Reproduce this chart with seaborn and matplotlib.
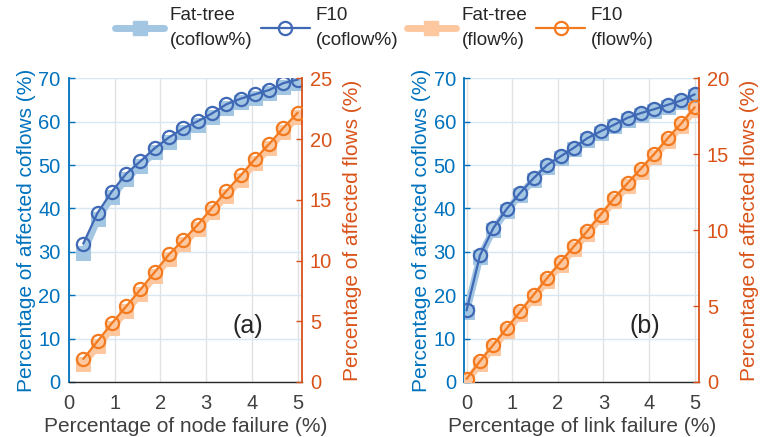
import matplotlib
matplotlib.use("Agg")
import matplotlib.pyplot as plt
import seaborn as sns
from matplotlib.lines import Line2D

# ---- data -------------------------------------------------------------
node_failure = [0.3125, 0.625, 0.9375, 1.25, 1.5625, 1.875, 2.1875, 2.5,
                2.8125, 3.125, 3.4375, 3.75, 4.0625, 4.375, 4.6875, 5.0]
node_fattree_coflow = [29.8, 37.5, 42.7, 46.8, 49.9, 52.9, 55.4, 57.6,
                       59.2, 61.0, 63.1, 64.5, 65.5, 66.5, 68.1, 69.0]
node_f10_coflow = [31.9, 39.0, 43.9, 48.0, 50.9, 53.9, 56.4, 58.5,
                   60.1, 61.9, 64.0, 65.3, 66.3, 67.3, 68.9, 69.7]
node_fattree_flow = [1.5, 2.95, 4.45, 5.85, 7.25, 8.7, 10.15, 11.35,
                     12.6, 14.0, 15.35, 16.65, 18.0, 19.25, 20.6, 21.85]
node_f10_flow = [1.9, 3.36, 4.84, 6.22, 7.62, 9.05, 10.51, 11.7,
                 12.93, 14.33, 15.71, 17.0, 18.33, 19.59, 20.93, 22.17]

link_failure = [0.0, 0.294, 0.588, 0.882, 1.176, 1.471, 1.765, 2.059, 2.353,
                2.647, 2.941, 3.235, 3.529, 3.824, 4.118, 4.412, 4.706, 5.0]
link_fattree_coflow = [16.2, 28.8, 35.1, 39.5, 43.2, 46.6, 49.6, 51.6, 53.6,
                       55.8, 57.4, 58.9, 60.5, 61.6, 62.5, 63.5, 64.5, 65.9]
link_f10_coflow = [16.5, 29.2, 35.5, 39.9, 43.6, 47.0, 50.0, 52.0, 54.0,
                   56.2, 57.8, 59.3, 60.9, 62.0, 62.9, 63.9, 64.9, 66.3]
link_fattree_flow = [0.05, 1.2, 2.25, 3.35, 4.45, 5.55, 6.65, 7.7, 8.75,
                     9.75, 10.85, 11.9, 12.9, 13.85, 14.85, 15.85, 16.85, 17.9]
link_f10_flow = [0.2, 1.37, 2.45, 3.54, 4.65, 5.75, 6.84, 7.9, 8.93,
                 9.94, 11.03, 12.1, 13.09, 14.06, 15.03, 16.06, 17.03, 18.09]

x_ticks = [0, 1, 2, 3, 4, 5]
coflow_ticks = [0, 10, 20, 30, 40, 50, 60, 70]

legend_labels = ["Fat-tree\n(coflow%)", "F10\n(coflow%)",
                 "Fat-tree\n(flow%)", "F10\n(flow%)"]

# ---- style ------------------------------------------------------------
sns.set_theme(style="white")
plt.rcParams["font.family"] = ["Liberation Sans", "DejaVu Sans"]

AX_BLUE = "#0072BD"
AX_ORANGE = "#D95319"
F10_COFLOW = "#3F68B5"
FT_COFLOW = "#A3C6E3"
F10_FLOW = "#F47A1F"
FT_FLOW = "#FDC8A0"
TEXT_GRAY = "#404040"

TICK_FS = 14.5
LABEL_FS = 15

ft_coflow_kw = dict(color=FT_COFLOW, lw=5, marker="s", ms=9.5,
                    mfc=FT_COFLOW, mec=FT_COFLOW)
f10_coflow_kw = dict(color=F10_COFLOW, lw=1.6, marker="o", ms=9.5,
                     mfc="none", mec=F10_COFLOW, mew=1.6)
ft_flow_kw = dict(color=FT_FLOW, lw=5, marker="s", ms=9.5,
                  mfc=FT_FLOW, mec=FT_FLOW)
f10_flow_kw = dict(color=F10_FLOW, lw=1.6, marker="o", ms=9.5,
                   mfc="none", mec=F10_FLOW, mew=1.6)

fig = plt.figure(figsize=(7.64, 4.37), dpi=100)


def panel(rect, x, ft_c, f10_c, ft_f, f10_f, xlabel, flow_max, tag, xlim):
    ax = fig.add_axes(rect)
    ax2 = ax.twinx()

    sns.lineplot(x=x, y=ft_c, ax=ax, zorder=2, **ft_coflow_kw)
    sns.lineplot(x=x, y=f10_c, ax=ax, zorder=3, **f10_coflow_kw)
    sns.lineplot(x=x, y=ft_f, ax=ax2, zorder=2, **ft_flow_kw)
    sns.lineplot(x=x, y=f10_f, ax=ax2, zorder=3, **f10_flow_kw)

    ax.set_xlim(*xlim)
    ax.set_ylim(0, 70)
    ax2.set_ylim(0, flow_max)
    ax.set_xticks(x_ticks)
    ax.set_yticks(coflow_ticks)
    ax2.set_yticks(list(range(0, flow_max + 1, 5)))

    ax.xaxis.grid(True, color="#e2e2e2", lw=1.0)
    ax.yaxis.grid(True, color="#d8e7f2", lw=1.0)
    ax.set_axisbelow(True)

    for s in ("top", "right"):
        ax.spines[s].set_visible(False)
    for s in ("top", "left", "bottom"):
        ax2.spines[s].set_visible(False)
    ax.spines["left"].set_color(AX_BLUE)
    ax.spines["left"].set_linewidth(1.3)
    ax.spines["bottom"].set_color("#262626")
    ax.spines["bottom"].set_linewidth(1.0)
    ax2.spines["right"].set_color(AX_ORANGE)
    ax2.spines["right"].set_linewidth(1.3)

    ax.tick_params(axis="y", direction="in", length=4, width=1,
                   colors=AX_BLUE, labelsize=TICK_FS, pad=6)
    ax2.tick_params(axis="y", direction="in", length=4, width=1,
                    colors=AX_ORANGE, labelsize=TICK_FS, pad=5.5)
    ax.tick_params(axis="x", direction="in", length=4, width=1,
                   color="#262626", labelcolor=TEXT_GRAY,
                   labelsize=TICK_FS, pad=9)

    ax.set_xlabel(xlabel, fontsize=LABEL_FS, color=TEXT_GRAY, labelpad=2.5)
    ax.set_ylabel("Percentage of affected coflows (%)", fontsize=LABEL_FS,
                  color=AX_BLUE, labelpad=2)
    ax2.set_ylabel("Percentage of affected flows (%)", fontsize=LABEL_FS,
                   color=AX_ORANGE, labelpad=8)

    ax.text(3.9, 13, tag, fontsize=18, color="#262626",
            ha="center", va="center")
    return ax, ax2


panel([0.0903, 0.1259, 0.3054, 0.6949], node_failure, node_fattree_coflow,
      node_f10_coflow, node_fattree_flow, node_f10_flow,
      "Percentage of node failure (%)", 25, "(a)", (0, 5.1))
panel([0.6077, 0.1259, 0.3076, 0.6949], link_failure, link_fattree_coflow,
      link_f10_coflow, link_fattree_flow, link_f10_flow,
      "Percentage of link failure (%)", 20, "(b)", (-0.05, 5.1))

handles = [Line2D([], [], **ft_coflow_kw), Line2D([], [], **f10_coflow_kw),
           Line2D([], [], **ft_flow_kw), Line2D([], [], **f10_flow_kw)]
leg = fig.legend(handles, legend_labels, loc="upper center",
                 bbox_to_anchor=(0.503, 1.022), ncol=4, frameon=False,
                 fontsize=13.6, handlelength=2.6, handletextpad=0.3,
                 columnspacing=0.45, labelcolor="#262626")
for t in leg.get_texts():
    t.set_linespacing(1.6)

fig.savefig("out.png", dpi=100)
